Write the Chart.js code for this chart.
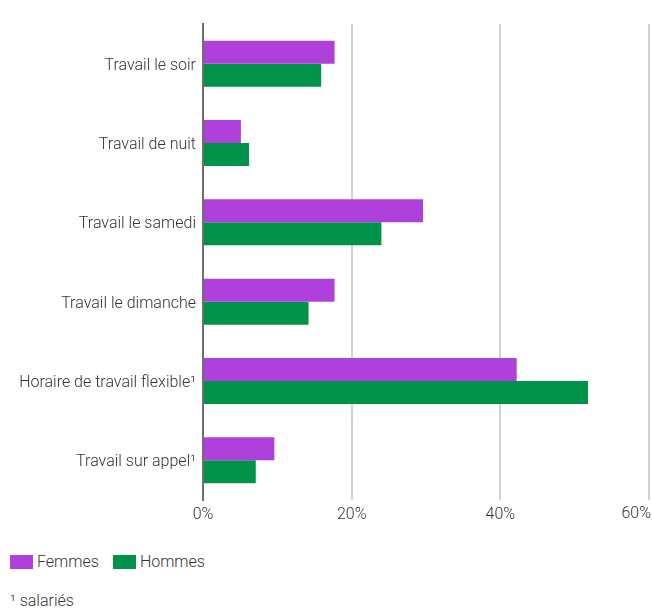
<!DOCTYPE html>
<html lang="fr">
<head>
<meta charset="utf-8">
<title>Horaires de travail atypiques</title>
<script src="https://cdn.jsdelivr.net/npm/chart.js@4.4.1/dist/chart.umd.min.js"></script>
<style>
  body { margin: 0; background: #fff; font-family: Roboto, "Noto Sans", sans-serif; font-weight: 300; color: #333; overflow: hidden; }
  #wrap { position: absolute; left: 0; top: 0; width: 652px; height: 530px; }
  .legend { position: absolute; left: 10px; top: 552px; font-size: 16px; display: flex; align-items: center; }
  .legend span.box { display: inline-block; width: 23px; height: 14px; margin-right: 4px; }
  .legend .item { display: flex; align-items: center; margin-right: 14px; }
  .note { position: absolute; left: 10px; top: 591px; font-size: 16px; }
</style>
</head>
<body>
<div id="wrap"><canvas id="chart"></canvas></div>
<div class="legend" id="legend"></div>
<div class="note">¹ salariés</div>
<script>
  const categories = [
    "Travail le soir",
    "Travail de nuit",
    "Travail le samedi",
    "Travail le dimanche",
    "Horaire de travail flexible¹",
    "Travail sur appel¹"
  ];
  const femmes = [17.7, 5.1, 29.6, 17.7, 42.2, 9.6];
  const hommes = [15.9, 6.2, 24.0, 14.2, 51.8, 7.1];
  const xTicks = [0, 20, 40, 60];

  const seriesNames = ["Femmes", "Hommes"];
  const seriesColors = ["#b040dc", "#00934a"];

  const lastTick = xTicks[xTicks.length - 1];
  const tickFont = { family: "Roboto", size: 16, weight: 300 };

  // the last tick label is pulled inside the canvas, right-aligned on its grid line
  const lastTickLabel = {
    id: "lastTickLabel",
    afterDraw(chart) {
      const x = chart.scales.x;
      const ctx = chart.ctx;
      ctx.save();
      ctx.font = "300 16px Roboto";
      ctx.fillStyle = "#333";
      ctx.textAlign = "right";
      ctx.textBaseline = "middle";
      ctx.fillText(lastTick + "%", x.getPixelForValue(lastTick) + 2, x.top + 14);
      ctx.restore();
    }
  };

  new Chart(document.getElementById("chart"), {
    type: "bar",
    data: {
      labels: categories,
      datasets: [
        { label: seriesNames[0], data: femmes, backgroundColor: seriesColors[0] },
        { label: seriesNames[1], data: hommes, backgroundColor: seriesColors[1] }
      ]
    },
    options: {
      indexAxis: "y",
      responsive: true,
      maintainAspectRatio: false,
      animation: false,
      datasets: { bar: { categoryPercentage: 0.58, barPercentage: 1 } },
      layout: { padding: { top: 24, left: 0, right: 3, bottom: 0 } },
      plugins: { legend: { display: false }, tooltip: { enabled: false } },
      scales: {
        x: {
          min: 0,
          max: lastTick,
          afterBuildTicks(scale) { scale.ticks = xTicks.map(v => ({ value: v })); },
          afterFit(scale) { scale.height = 30; scale.paddingRight = 0; },
          grid: {
            drawTicks: false,
            lineWidth: 2,
            color: ctx => ctx.tick && ctx.tick.value === 0 ? "rgba(0,0,0,0)" : "#d2d2d2"
          },
          border: { display: false },
          ticks: {
            padding: 5,
            color: "#333",
            font: tickFont,
            callback: v => v === lastTick ? "" : v + "%"
          }
        },
        y: {
          afterFit(scale) { scale.width = 203; },
          grid: { display: false, drawTicks: false },
          border: { display: true, color: "#6e6e6e", width: 2 },
          ticks: { padding: 7, labelOffset: 2, color: "#333", font: tickFont }
        }
      }
    },
    plugins: [lastTickLabel]
  });

  const legend = document.getElementById("legend");
  seriesNames.forEach((name, i) => {
    const item = document.createElement("div");
    item.className = "item";
    item.innerHTML = '<span class="box" style="background:' + seriesColors[i] + '"></span>' + name;
    legend.appendChild(item);
  });
</script>
</body>
</html>
